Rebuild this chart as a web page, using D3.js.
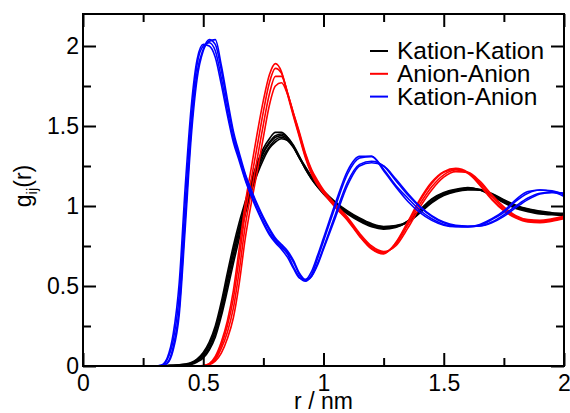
<!DOCTYPE html>
<html>
<head>
<meta charset="utf-8">
<script src="https://cdn.jsdelivr.net/npm/d3@7"></script>
<style>
  html, body { margin: 0; padding: 0; background: #fff; }
  svg { display: block; }
  text { font-family: "Liberation Sans", Arial, Helvetica, sans-serif; fill: #000; }
</style>
</head>
<body>
<svg id="chart" width="570" height="413"></svg>
<script>
// Radial distance grid r (nm), shared by every curve
const rGrid = [0.1, 0.2, 0.3, 0.325, 0.35, 0.375, 0.4, 0.425, 0.45, 0.475,
  0.5, 0.525, 0.55, 0.575, 0.6, 0.625, 0.65, 0.675, 0.7, 0.725,
  0.75, 0.775, 0.8, 0.825, 0.85, 0.875, 0.9, 0.925, 0.95, 0.975,
  1.0, 1.05, 1.1, 1.15, 1.2, 1.25, 1.3, 1.35, 1.4, 1.45,
  1.5, 1.55, 1.6, 1.65, 1.7, 1.75, 1.8, 1.85, 1.9, 1.95, 2.0];

// Kation-Kation g(r), one run per array
const kk1 = [0,0,0,0,0.003,0.005,0.008,0.012,0.022,0.045,0.085,0.15,0.25,0.40,0.58,0.75,0.90,1.03,1.16,1.27,1.36,1.42,1.46,1.46,1.43,1.38,1.31,1.23,1.17,1.12,1.075,1.005,0.95,0.905,0.87,0.855,0.865,0.905,0.975,1.045,1.085,1.105,1.115,1.10,1.065,1.02,0.985,0.965,0.95,0.945,0.94];
const kk2 = [0,0,0,0,0.002,0.004,0.006,0.01,0.018,0.04,0.075,0.135,0.23,0.37,0.55,0.72,0.87,1.01,1.14,1.25,1.34,1.40,1.44,1.45,1.43,1.375,1.30,1.23,1.17,1.12,1.08,1.01,0.955,0.91,0.875,0.86,0.87,0.905,0.97,1.04,1.08,1.10,1.11,1.10,1.065,1.025,0.99,0.97,0.955,0.95,0.945];
const kk3 = [0,0,0,0,0.002,0.003,0.005,0.008,0.015,0.035,0.07,0.125,0.22,0.36,0.53,0.70,0.855,0.995,1.13,1.24,1.33,1.39,1.43,1.44,1.42,1.37,1.30,1.235,1.175,1.125,1.085,1.015,0.96,0.915,0.88,0.865,0.87,0.90,0.965,1.03,1.075,1.10,1.11,1.105,1.07,1.03,0.995,0.975,0.96,0.952,0.948];
const kk4 = [0,0,0,0,0.001,0.002,0.004,0.006,0.012,0.03,0.06,0.11,0.20,0.33,0.50,0.67,0.83,0.975,1.11,1.22,1.31,1.37,1.415,1.43,1.41,1.365,1.30,1.24,1.18,1.13,1.09,1.02,0.965,0.92,0.885,0.87,0.875,0.90,0.96,1.025,1.07,1.095,1.105,1.10,1.075,1.035,1.0,0.98,0.965,0.955,0.952];
const kk5 = [0,0,0,0,0.001,0.002,0.003,0.005,0.01,0.025,0.05,0.10,0.18,0.31,0.47,0.64,0.80,0.95,1.09,1.20,1.29,1.36,1.40,1.42,1.41,1.37,1.305,1.245,1.185,1.135,1.095,1.025,0.97,0.925,0.89,0.872,0.878,0.898,0.955,1.02,1.065,1.09,1.10,1.10,1.078,1.04,1.005,0.982,0.968,0.958,0.955];

// Anion-Anion g(r)
const aa1 = [0,0,0,0,0,0,0,0,0,0,0.003,0.015,0.06,0.15,0.28,0.47,0.74,1.02,1.24,1.46,1.66,1.82,1.89,1.84,1.70,1.56,1.43,1.30,1.20,1.13,1.08,0.99,0.91,0.81,0.73,0.70,0.77,0.90,1.04,1.15,1.215,1.235,1.21,1.13,1.04,0.97,0.925,0.90,0.895,0.905,0.92];
const aa2 = [0,0,0,0,0,0,0,0,0,0,0.002,0.012,0.05,0.13,0.25,0.42,0.68,0.96,1.17,1.38,1.59,1.77,1.86,1.83,1.71,1.57,1.44,1.31,1.21,1.14,1.085,0.995,0.915,0.815,0.735,0.705,0.765,0.89,1.03,1.14,1.21,1.23,1.205,1.135,1.045,0.975,0.93,0.905,0.90,0.91,0.925];
const aa3 = [0,0,0,0,0,0,0,0,0,0,0.001,0.01,0.04,0.11,0.21,0.36,0.60,0.88,1.09,1.30,1.51,1.70,1.81,1.81,1.71,1.58,1.45,1.32,1.22,1.15,1.09,1.00,0.92,0.82,0.74,0.71,0.76,0.88,1.01,1.12,1.195,1.225,1.21,1.145,1.06,0.985,0.935,0.91,0.905,0.915,0.93];
const aa4 = [0,0,0,0,0,0,0,0,0,0,0.001,0.008,0.03,0.08,0.17,0.30,0.52,0.80,1.02,1.22,1.43,1.63,1.75,1.77,1.70,1.58,1.46,1.33,1.23,1.16,1.10,1.01,0.93,0.83,0.75,0.715,0.75,0.86,0.99,1.10,1.18,1.215,1.21,1.155,1.07,0.995,0.94,0.915,0.91,0.92,0.935];

// Kation-Anion g(r)
const ka1 = [0,0,0,0.005,0.05,0.20,0.52,1.12,1.62,1.92,2.01,2.00,1.93,1.76,1.57,1.40,1.28,1.16,1.06,0.97,0.89,0.82,0.77,0.73,0.68,0.61,0.55,0.54,0.59,0.69,0.80,1.02,1.22,1.31,1.31,1.22,1.12,1.03,0.96,0.91,0.88,0.87,0.87,0.885,0.92,0.97,1.04,1.09,1.10,1.09,1.06];
const ka2 = [0,0,0,0.004,0.04,0.16,0.44,1.02,1.55,1.89,2.00,2.02,1.97,1.80,1.60,1.42,1.30,1.17,1.07,0.98,0.90,0.83,0.78,0.74,0.70,0.62,0.555,0.53,0.57,0.67,0.78,1.00,1.20,1.30,1.31,1.23,1.13,1.05,0.975,0.92,0.885,0.872,0.87,0.88,0.915,0.96,1.03,1.08,1.10,1.095,1.07];
const ka3 = [0,0,0,0.002,0.02,0.12,0.36,0.92,1.48,1.84,1.98,2.04,2.01,1.85,1.64,1.45,1.31,1.19,1.09,1.00,0.92,0.85,0.79,0.75,0.71,0.65,0.57,0.535,0.56,0.64,0.74,0.95,1.15,1.26,1.28,1.25,1.16,1.07,0.995,0.935,0.895,0.875,0.87,0.875,0.90,0.945,1.00,1.05,1.08,1.085,1.08];
const ka4 = [0,0,0,0.001,0.015,0.10,0.32,0.86,1.43,1.80,1.97,2.03,2.04,1.88,1.67,1.47,1.33,1.20,1.10,1.01,0.93,0.86,0.80,0.76,0.72,0.66,0.58,0.54,0.56,0.63,0.73,0.93,1.13,1.25,1.27,1.25,1.17,1.08,1.00,0.94,0.90,0.88,0.875,0.875,0.895,0.935,0.99,1.04,1.075,1.085,1.08];

// Series names, colours and their runs (drawn in this order)
const seriesNames = ["Kation-Kation", "Anion-Anion", "Kation-Anion"];
const seriesColors = ["#000000", "#ff0000", "#0000ff"];
const seriesRuns = [[kk1, kk2, kk3, kk4, kk5], [aa1, aa2, aa3, aa4], [ka1, ka2, ka3, ka4]];

// Axis ticks
const xMajorTicks = [0, 0.5, 1, 1.5, 2];
const xMinorTicks = [0.25, 0.75, 1.25, 1.75];
const yMajorTicks = [0, 0.5, 1, 1.5, 2];
const yMinorTicks = [0.25, 0.75, 1.25, 1.75];

const svg = d3.select("#chart");
const plotLeft = 83, plotRight = 564, plotTop = 14, plotBottom = 366;

const x = d3.scaleLinear().domain([0, 2]).range([plotLeft, plotRight]);
const y = d3.scaleLinear().domain([0, 2.2]).range([plotBottom, plotTop]);

// Curves
const line = d3.line()
  .x((d, i) => x(rGrid[i]))
  .y(d => y(d))
  .curve(d3.curveMonotoneX);

const curves = svg.append("g");
seriesRuns.forEach((runs, s) => {
  runs.forEach(run => {
    curves.append("path")
      .attr("d", line(run))
      .attr("fill", "none")
      .attr("stroke", seriesColors[s])
      .attr("stroke-width", 1.6)
      .attr("stroke-linejoin", "round");
  });
});

// Axes with inward ticks on all four sides
const fmt = d3.format("");
function styleAxis(g) {
  g.select(".domain").remove();
  g.selectAll(".tick line").attr("stroke", "#000").attr("stroke-width", 2);
  g.selectAll(".tick text").style("font-size", "23px")
    .style("font-family", "'Liberation Sans', Arial, sans-serif").attr("fill", "#000");
}

svg.append("g").attr("transform", `translate(0,${plotBottom})`)
  .call(d3.axisBottom(x).tickValues(xMajorTicks).tickFormat(fmt).tickSize(-13).tickPadding(9))
  .call(styleAxis);
svg.append("g").attr("transform", `translate(0,${plotBottom})`)
  .call(d3.axisBottom(x).tickValues(xMinorTicks).tickFormat("").tickSize(-8))
  .call(styleAxis);
svg.append("g").attr("transform", `translate(0,${plotTop})`)
  .call(d3.axisTop(x).tickValues(xMajorTicks).tickFormat("").tickSize(-13))
  .call(styleAxis);
svg.append("g").attr("transform", `translate(0,${plotTop})`)
  .call(d3.axisTop(x).tickValues(xMinorTicks).tickFormat("").tickSize(-8))
  .call(styleAxis);

svg.append("g").attr("transform", `translate(${plotLeft},0)`)
  .call(d3.axisLeft(y).tickValues(yMajorTicks).tickFormat(fmt).tickSize(-13).tickPadding(4))
  .call(styleAxis);
svg.append("g").attr("transform", `translate(${plotLeft},0)`)
  .call(d3.axisLeft(y).tickValues(yMinorTicks).tickFormat("").tickSize(-8))
  .call(styleAxis);
svg.append("g").attr("transform", `translate(${plotRight},0)`)
  .call(d3.axisRight(y).tickValues(yMajorTicks).tickFormat("").tickSize(-13))
  .call(styleAxis);
svg.append("g").attr("transform", `translate(${plotRight},0)`)
  .call(d3.axisRight(y).tickValues(yMinorTicks).tickFormat("").tickSize(-8))
  .call(styleAxis);

// Frame
svg.append("rect")
  .attr("x", plotLeft).attr("y", plotTop)
  .attr("width", plotRight - plotLeft).attr("height", plotBottom - plotTop)
  .attr("fill", "none").attr("stroke", "#000").attr("stroke-width", 2);

// Axis titles
svg.append("text")
  .attr("x", (plotLeft + plotRight) / 2).attr("y", 409)
  .attr("text-anchor", "middle")
  .style("font-size", "23px")
  .text("r / nm");

const yTitle = svg.append("text")
  .attr("transform", "translate(31,186) rotate(-90)")
  .attr("text-anchor", "middle")
  .style("font-size", "23px");
yTitle.append("tspan").text("g");
yTitle.append("tspan").attr("dy", 6).style("font-size", "15px").text("ij");
yTitle.append("tspan").attr("dy", -6).text("(r)");

// Legend
const legend = svg.append("g");
seriesNames.forEach((name, i) => {
  const base = 59 + i * 22.8;
  legend.append("line")
    .attr("x1", 370).attr("x2", 388)
    .attr("y1", base - 8).attr("y2", base - 8)
    .attr("stroke", seriesColors[i]).attr("stroke-width", 2);
  legend.append("text")
    .attr("x", 397).attr("y", base)
    .style("font-size", "24.5px")
    .text(name);
});
</script>
</body>
</html>
